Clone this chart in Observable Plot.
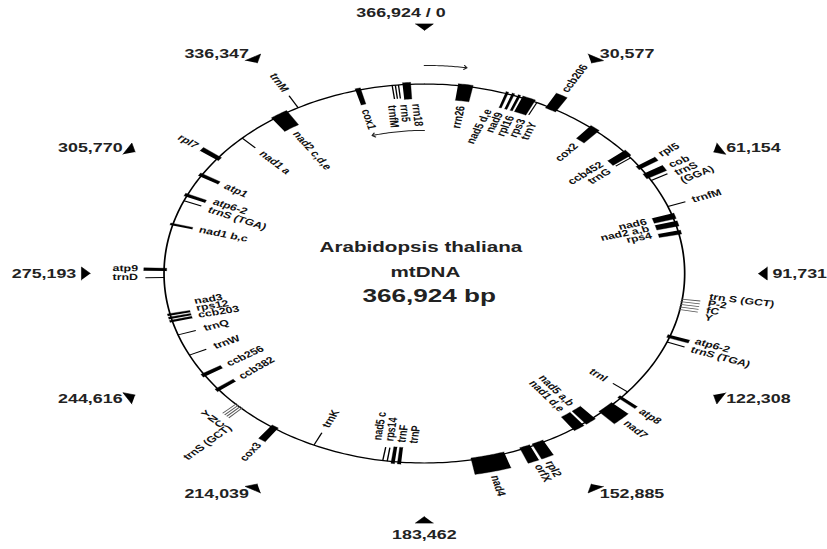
<!DOCTYPE html>
<html>
<head>
<meta charset="utf-8">
<script src="https://cdn.jsdelivr.net/npm/d3@7"></script>
<script src="https://cdn.jsdelivr.net/npm/@observablehq/plot@0.6"></script>
<style>
  html, body { margin: 0; padding: 0; background: #fff; }
  #chart svg { display: block; }
</style>
</head>
<body>
<div id="chart"></div>
<script>
// ---------------- DATA ----------------
const genomeLength = 366924;

const tickPositions = [0, 30577, 61154, 91731, 122308, 152885, 183462, 214039, 244616, 275193, 305770, 336347];
const tickLabels = ["366,924 / 0", "30,577", "61,154", "91,731", "122,308", "152,885", "183,462", "214,039", "244,616", "275,193", "305,770", "336,347"];

const titleLines = ["Arabidopsis thaliana", "mtDNA", "366,924 bp"];

// label groups (one text block per group, lines separated by \n)
const groupLabels = [
  "rrn18\nrrn5\ntrnfM",            // 0
  "cox1",                          // 1
  "trnM",                          // 2
  "nad2 c,d,e",                    // 3
  "nad1 a",                        // 4
  "rpl7",                          // 5
  "atp1",                          // 6
  "atp6-2\ntrnS (TGA)",            // 7
  "nad1 b,c",                      // 8
  "atp9\ntrnD",                    // 9
  "nad3\nrps12\nccb203",           // 10
  "trnQ",                          // 11
  "trnW",                          // 12
  "ccb256",                        // 13
  "ccb382",                        // 14
  "Y\nN\nC\ntrnS (GCT)",           // 15
  "cox3",                          // 16
  "trnK",                          // 17
  "nad5 c\nrps14\ntrnF\ntrnP",     // 18
  "nad4",                          // 19
  "rpl2\norfX",                    // 20
  "nad5 a,b\nnad1 d,e",            // 21
  "nad7",                          // 22
  "atp8",                          // 23
  "trnI",                          // 24
  "atp6-2\ntrnS (TGA)",            // 25
  "trn S (GCT)\nP-2\nfC\nY",       // 26
  "nad6\nnad2 a,b\nrps4",          // 27
  "trnfM",                         // 28
  "cob\ntrnS\n(GGA)",              // 29
  "rpl5",                          // 30
  "ccb452\ntrnG",                  // 31
  "cox2",                          // 32
  "ccb206",                        // 33
  "nad5 d,e\nnad9\nrpl16\nrps3\ntrnY", // 34
  "rrn26"                          // 35
];

// genes: name, start/end (bp), strand (+1 outer side, -1 inner side), kind, label group
const geneNames = [
  "trnfM", "trnE", "rrn5", "rrn18",
  "cox1", "trnM", "nad2 c,d,e", "nad1 a", "rpl7", "atp1",
  "trnS (TGA)", "atp6-2", "nad1 b,c", "trnD", "atp9",
  "ccb203", "rps12", "nad3", "trnQ", "trnW", "ccb256", "ccb382",
  "trnS (GCT)", "trnC", "trnN", "trnY",
  "cox3", "trnK",
  "nad5 c", "rps14", "trnF", "trnP",
  "nad4", "rpl2", "orfX", "nad5 a,b", "nad1 d,e", "nad7", "atp8", "trnI",
  "atp6-2", "trnS (TGA)",
  "trnS (GCT)", "trnP-2", "trnfC", "trnY", "trnX",
  "nad6", "nad2 a,b", "rps4", "trnfM",
  "cob", "trnS (GGA)", "rpl5", "ccb452", "trnG", "cox2", "ccb206",
  "nad5 d,e", "nad9", "rpl16", "rps3", "trnY",
  "rrn26"
];
const geneStart = [
  359687, 360401, 361115, 362032,
  351329, 337366, 330639, 321670, 312803, 306484,
  298228, 299553, 290176, 273970, 276008,
  260108, 261127, 262147, 255930, 249203, 241762, 236258,
  228920, 229532, 230143, 230755,
  218625, 209045,
  188661, 190087, 191820, 192839,
  165116, 155535, 158898, 142081, 145343, 135966, 133112, 131175,
  111096, 113339,
  99681, 100496, 101312, 102127, 102943,
  72977, 75423, 78379, 70633,
  59116, 61766, 56262, 50758, 53408, 40056, 28539,
  18448, 19875, 21302, 22423, 26092,
  7542
];
const geneEnd = [
  359687, 360401, 361115, 363866,
  352552, 337366, 334716, 321670, 314027, 307503,
  298228, 300470, 290788, 273970, 276823,
  260720, 261739, 262758, 255930, 249203, 242781, 237278,
  228920, 229532, 230143, 230755,
  220358, 209045,
  189477, 190902, 191820, 192839,
  172862, 158287, 161344, 144731, 147993, 140043, 133927, 131175,
  112014, 113339,
  99681, 100496, 101312, 102127, 102943,
  74710, 77054, 79602, 70633,
  60848, 61766, 57484, 52796, 53408, 42502, 31189,
  19060, 20487, 21913, 25481, 26092,
  10906
];
const geneStrand = [
  -1, -1, -1, -1,
  -1, 1, -1, -1, 1, -1,
  -1, -1, -1, 1, 1,
  -1, -1, -1, -1, -1, -1, -1,
  1, 1, 1, 1,
  1, -1,
  -1, -1, -1, -1,
  1, 1, 1, -1, -1, 1, 1, -1,
  1, 1,
  1, 1, 1, 1, 1,
  -1, -1, -1, 1,
  1, 1, 1, -1, -1, -1, 1,
  -1, -1, -1, -1, -1,
  -1
];
const geneKind = [
  "trna", "trna", "trna", "box",
  "box", "trna", "box", "trna", "box", "box",
  "trna", "box", "box", "trna", "box",
  "box", "box", "box", "trna", "trna", "box", "box",
  "gray", "gray", "gray", "gray",
  "box", "trna",
  "box", "box", "trna", "trna",
  "box", "box", "box", "box", "box", "box", "box", "trna",
  "box", "trna",
  "gray", "gray", "gray", "gray", "gray",
  "box", "box", "box", "trna",
  "box", "trna", "box", "box", "trna", "box", "box",
  "box", "box", "box", "box", "trna",
  "box"
];
const geneGroup = [
  0, 0, 0, 0,
  1, 2, 3, 4, 5, 6,
  7, 7, 8, 9, 9,
  10, 10, 10, 11, 12, 13, 14,
  15, 15, 15, 15,
  16, 17,
  18, 18, 18, 18,
  19, 20, 20, 21, 21, 22, 23, 24,
  25, 25,
  26, 26, 26, 26, 26,
  27, 27, 27, 28,
  29, 29, 30, 31, 31, 32, 33,
  34, 34, 34, 34, 34,
  35
];

// strand direction arrows near the origin (bp ranges)
const strandArrows = [
  {from: 0, to: 8450, side: 1},
  {from: 366924, to: 351650, side: -1}
];

// ---------------- LAYOUT ----------------
const W0 = 602, H = 549;          // drawing space before horizontal stretch
const CX = 308.4, CY = 273, R = 189.5;
const FINAL_W = 827;
const FONT = "'Liberation Sans', Arial, Helvetica, sans-serif";
// small angular nudges (degrees) for crowded label blocks, and blocks set with tight leading
const labelNudge = {10: 1.5, 29: 1.9, 30: -0.6};
const compactGroups = new Set([10, 15, 26, 27]);

const deg = bp => bp / genomeLength * 360;
const rad = d => d * Math.PI / 180;
const X = (d, r) => r * Math.sin(rad(d));
const Y = (d, r) => r * Math.cos(rad(d));

const genes = geneNames.map((name, i) => ({
  name, start: geneStart[i], end: geneEnd[i], strand: geneStrand[i], kind: geneKind[i], group: geneGroup[i]
}));

// box polygons (annular sectors)
const boxPts = [];
genes.forEach((g, i) => {
  if (g.kind !== "box") return;
  const a0 = deg(g.start), a1 = deg(g.end);
  const rA = g.strand > 0 ? 0.99 : 1.01;
  const rB = g.strand > 0 ? 1.078 : 0.922;
  const n = Math.max(2, Math.ceil((a1 - a0) / 0.5));
  for (let k = 0; k <= n; k++) { const a = a0 + (a1 - a0) * k / n; boxPts.push({id: i, x: X(a, rB), y: Y(a, rB)}); }
  for (let k = n; k >= 0; k--) { const a = a0 + (a1 - a0) * k / n; boxPts.push({id: i, x: X(a, rA), y: Y(a, rA)}); }
});

const ticksBlack = genes.filter(g => g.kind === "trna");
const ticksGray = genes.filter(g => g.kind === "gray");

// labels
const labels = groupLabels.map((text, gi) => {
  const gs = genes.filter(g => g.group === gi);
  const a0 = d3.min(gs, g => deg(g.start)), a1 = d3.max(gs, g => deg(g.end));
  const a = (a0 + a1) / 2 + (labelNudge[gi] || 0);
  const out = gs[0].strand > 0;
  const right = a < 180;
  const r = out ? 1.10 : 0.895;
  return {
    text, a, out, right, compact: compactGroups.has(gi),
    anchor: (right === out) ? "start" : "end",
    rot: right ? a - 90 : a - 270,
    x: X(a, r), y: Y(a, r)
  };
});

// circle
const circle = d3.range(0, 361, 1).map(a => ({x: X(a, 1), y: Y(a, 1)}));

// strand arrows
const arrowPts = [];
strandArrows.forEach((s, i) => {
  const a0 = deg(s.from), a1 = deg(s.to);
  const r = s.side > 0 ? 1.098 : 0.755;
  for (let k = 0; k <= 20; k++) { const a = a0 + (a1 - a0) * k / 20; arrowPts.push({id: i, x: X(a, r), y: Y(a, r)}); }
});

// position markers (right-angled triangles pointing to the centre)
const RM = 1.30;
const triPts = [];
tickPositions.forEach((bp, i) => {
  const a = deg(bp);
  const ux = Math.sin(rad(a)), uy = Math.cos(rad(a));
  const tx = uy, ty = -ux;
  const h = 6.5 / R, w = 6.5 / R;
  const cx = ux * RM, cy = uy * RM;
  triPts.push({id: i, x: cx - ux * h / 2, y: cy - uy * h / 2});
  triPts.push({id: i, x: cx + ux * h / 2 + tx * w, y: cy + uy * h / 2 + ty * w});
  triPts.push({id: i, x: cx + ux * h / 2 - tx * w, y: cy + uy * h / 2 - ty * w});
});

const posLabels = tickPositions.map((bp, i) => {
  const a = deg(bp);
  const s = Math.sin(rad(a)), c = Math.cos(rad(a));
  let dxp, dyp, anchor;
  if (Math.abs(s) < 1e-6) {
    anchor = "middle";
    dxp = c > 0 ? -17 : 0;
    dyp = c > 0 ? -14 : 14.5;
  } else {
    anchor = s > 0 ? "start" : "end";
    dxp = Math.sign(s) * (2 + 5 * Math.abs(s));
    dyp = -9 * c * Math.abs(c);
  }
  return {text: tickLabels[i], anchor, x: X(a, RM) + dxp / R, y: Y(a, RM) - dyp / R};
});

const geneText = (anchor, compact) => Plot.text(labels.filter(l => l.anchor === anchor && l.compact === compact), {
  x: "x", y: "y", text: "text", rotate: "rot",
  textAnchor: anchor, lineAnchor: "middle",
  fontSize: 9, lineHeight: compact ? 0.78 : 0.98, fontWeight: "bold", fill: "#111", fontFamily: FONT
});
const posText = (anchor) => Plot.text(posLabels.filter(l => l.anchor === anchor), {
  x: "x", y: "y", text: "text", textAnchor: anchor, lineAnchor: "middle",
  fontSize: 13, fontWeight: "bold", fill: "#222", fontFamily: FONT
});

const svg = Plot.plot({
  width: W0,
  height: H,
  margin: 0,
  style: {background: "white", fontFamily: FONT, overflow: "visible"},
  x: {domain: [-CX / R, (W0 - CX) / R], range: [0, W0], axis: null},
  y: {domain: [(CY - H) / R, CY / R], range: [H, 0], axis: null},
  marks: [
    Plot.line(circle, {x: "x", y: "y", stroke: "black", strokeWidth: 1.25, curve: "linear"}),
    Plot.line(boxPts, {x: "x", y: "y", z: "id", fill: "black", stroke: "black", strokeWidth: 0.3, curve: "linear"}),
    Plot.link(ticksBlack, {
      x1: g => X(deg(g.start), 1), y1: g => Y(deg(g.start), 1),
      x2: g => X(deg(g.start), 1 + 0.072 * g.strand), y2: g => Y(deg(g.start), 1 + 0.072 * g.strand),
      stroke: "black", strokeWidth: 1
    }),
    Plot.link(ticksGray, {
      x1: g => X(deg(g.start), 0.995), y1: g => Y(deg(g.start), 0.995),
      x2: g => X(deg(g.start), 1 + 0.07 * g.strand), y2: g => Y(deg(g.start), 1 + 0.07 * g.strand),
      stroke: "#555", strokeWidth: 0.8
    }),
    Plot.line(arrowPts, {x: "x", y: "y", z: "id", stroke: "#222", strokeWidth: 1, markerEnd: "arrow", curve: "linear"}),
    Plot.line(triPts, {x: "x", y: "y", z: "id", fill: "black", stroke: "black", strokeWidth: 0.5, curve: "linear"}),
    geneText("start", false),
    geneText("end", false),
    geneText("start", true),
    geneText("end", true),
    posText("start"),
    posText("end"),
    posText("middle"),
    Plot.text([titleLines[0]], {x: () => 0, y: () => 0, text: d => d, dx: -2.5, dy: -26, fontSize: 15, fontWeight: "bold", fill: "#222", fontFamily: FONT, lineAnchor: "middle"}),
    Plot.text([titleLines[1]], {x: () => 0, y: () => 0, text: d => d, dx: 0.8, dy: -1, fontSize: 15, fontWeight: "bold", fill: "#222", fontFamily: FONT, lineAnchor: "middle"}),
    Plot.text([titleLines[2]], {x: () => 0, y: () => 0, text: d => d, dx: 3.5, dy: 22.5, fontSize: 19, fontWeight: "bold", fill: "#222", fontFamily: FONT, lineAnchor: "middle"})
  ]
});

svg.setAttribute("width", FINAL_W);
svg.setAttribute("height", H);
svg.setAttribute("preserveAspectRatio", "none");
svg.style.width = FINAL_W + "px";
svg.style.height = H + "px";
svg.style.maxWidth = "none";
document.getElementById("chart").append(svg);
</script>
</body>
</html>
